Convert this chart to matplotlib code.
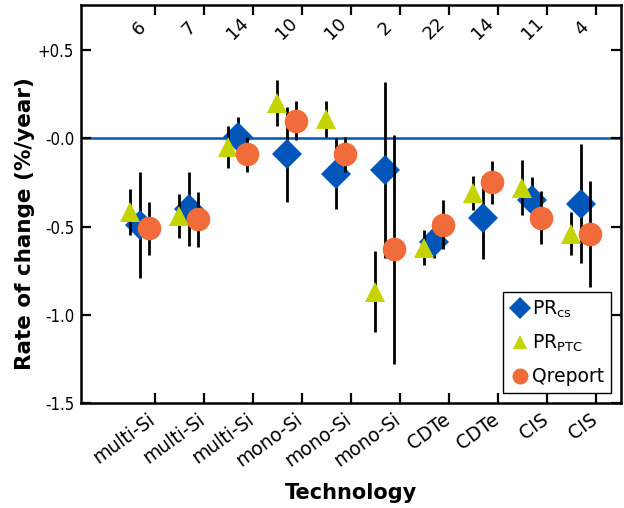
import matplotlib
matplotlib.use("Agg")
import matplotlib.pyplot as plt
import numpy as np
from matplotlib.lines import Line2D
from matplotlib.transforms import ScaledTranslation

categories = ["multi-Si", "multi-Si", "multi-Si", "mono-Si", "mono-Si", "mono-Si",
              "CDTe", "CDTe", "CIS", "CIS"]
counts = ["6", "7", "14", "10", "10", "2", "22", "14", "11", "4"]

pr_cs = [-0.49, -0.40, 0.01, -0.09, -0.20, -0.18, -0.59, -0.45, -0.35, -0.37]
pr_cs_err = [0.30, 0.21, 0.11, 0.27, 0.20, 0.50, 0.09, 0.235, 0.13, 0.335]

pr_ptc = [-0.42, -0.44, -0.05, 0.20, 0.11, -0.87, -0.62, -0.31, -0.28, -0.54]
pr_ptc_err = [0.13, 0.125, 0.12, 0.13, 0.10, 0.23, 0.10, 0.095, 0.155, 0.12]

qreport = [-0.51, -0.46, -0.09, 0.10, -0.09, -0.63, -0.49, -0.25, -0.45, -0.54]
qreport_err = [0.15, 0.155, 0.10, 0.11, 0.10, 0.65, 0.14, 0.12, 0.15, 0.30]

yticks = [0.5, 0.0, -0.5, -1.0, -1.5]
ytick_labels = ["+0.5", "-0.0", "-0.5", "-1.0", "-1.5"]

BLUE = "#0055B8"
YG = "#C5D300"
ORANGE = "#F26B3A"

plt.rcParams['font.family'] = ['DejaVu Sans']

fig = plt.figure(figsize=(6.24, 5.08), dpi=100)
ax = fig.add_axes([0.130, 0.2067, 0.865, 0.7833])

x = np.arange(len(categories))
center = x - 0.31

ax.axhline(0, color=BLUE, lw=1.8, zorder=1)

series = [
    (pr_cs, pr_cs_err, 'D', BLUE, 15, 0.0, 3),
    (pr_ptc, pr_ptc_err, '^', YG, 15, -0.2, 4),
    (qreport, qreport_err, 'o', ORANGE, 17, 0.19, 5),
]
for vals, errs, mk, col, ms, off, z in series:
    ax.errorbar(center + off, vals, yerr=errs, fmt='none', ecolor='black',
                elinewidth=2.0, capsize=0, zorder=z)
    ax.plot(center + off, vals, linestyle='none', marker=mk, color=col,
            markersize=ms, markeredgewidth=0, zorder=z + 0.5)

for cx, c in zip(center, counts):
    ax.text(cx, 0.625, c, rotation=45, ha='center', va='center', fontsize=13)

ax.set_xlim(-1.5, 9.5)
ax.set_ylim(-1.5, 0.755)
ax.set_yticks(yticks)
ax.set_yticklabels(ytick_labels, family=['Liberation Sans Narrow', 'DejaVu Sans'],
                   fontsize=12, fontstretch='condensed')
ax.set_xticks(x)
ax.set_xticklabels(categories, rotation=36, ha='right', va='top',
                   rotation_mode='anchor', fontsize=13.5)

ax.tick_params(axis='both', direction='in', length=7, width=1.6,
               top=True, right=True)
ax.tick_params(axis='x', pad=5)
ax.tick_params(axis='y', pad=5)
for s in ax.spines.values():
    s.set_linewidth(1.8)

shift = ScaledTranslation(-0.07, 0, fig.dpi_scale_trans)
for lab in ax.get_xticklabels():
    lab.set_transform(lab.get_transform() + shift)

ax.set_ylabel("Rate of change (%/year)", fontsize=15.5, fontweight='bold')
ax.yaxis.set_label_coords(-0.085, 0.45)
ax.set_xlabel("Technology", fontsize=15, fontweight='bold')
ax.xaxis.set_label_coords(0.5, -0.2)

handles = [
    Line2D([], [], linestyle='none', marker='D', color=BLUE, markersize=11.5, markeredgewidth=0),
    Line2D([], [], linestyle='none', marker='^', color=YG, markersize=10, markeredgewidth=0),
    Line2D([], [], linestyle='none', marker='o', color=ORANGE, markersize=11.5, markeredgewidth=0),
]
leg = ax.legend(handles, [r"PR$_{\mathregular{cs}}$", r"PR$_{\mathregular{PTC}}$", "Qreport"],
                loc='lower right', bbox_to_anchor=(0.982, 0.025), fontsize=13.5,
                fancybox=False, framealpha=1, edgecolor='black',
                handletextpad=0.1, handlelength=1.1, borderpad=0.35, labelspacing=0.7,
                borderaxespad=0.0)
leg.get_frame().set_linewidth(1.0)

fig.savefig("out.png", dpi=100)
